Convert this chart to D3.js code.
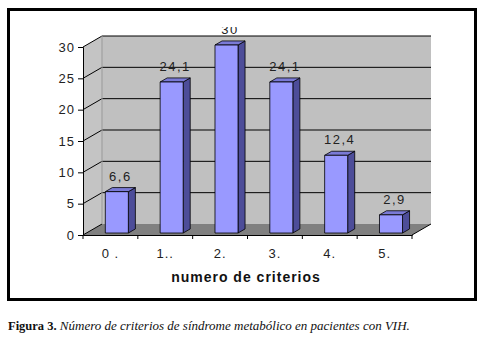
<!DOCTYPE html>
<html>
<head>
<meta charset="utf-8">
<script src="https://cdn.jsdelivr.net/npm/d3@7"></script>
<style>
  body { margin: 0; background: #fff; }
  svg text { font-family: Arial, "Liberation Sans", sans-serif; }
</style>
</head>
<body>
<div id="chart"></div>
<script>
// data
var categories = ["0 .", "1..", "2.", "3.", "4.", "5."];
var values = [6.6, 24.1, 30, 24.1, 12.4, 2.9];
var valueLabels = ["6,6", "24,1", "30", "24,1", "12,4", "2,9"];
var yTicks = [0, 5, 10, 15, 20, 25, 30];
var axisTitle = "numero de criterios";
var captionBold = "Figura 3.";
var captionItalic = " Número de criterios de síndrome metabólico en pacientes con VIH.";

var W = 488, H = 348;
var svg = d3.select("#chart").append("svg")
    .attr("width", W)
    .attr("height", H);

// outer frame
svg.append("rect")
    .attr("x", 8.5).attr("y", 9.5)
    .attr("width", 467).attr("height", 290)
    .attr("fill", "#fff")
    .attr("stroke", "#000")
    .attr("stroke-width", 3);

// 3D depth offsets of the back wall
var DX = 19, DY = 11;

var x = d3.scaleBand()
    .domain(categories)
    .range([83, 412]);

var y = d3.scaleLinear()
    .domain([0, 30])
    .range([235, 47]);

// project a point (px, value, depth 0..1)
function P(px, v, z) {
    return [px + z * DX, y(v) - z * DY];
}
function poly(pts) {
    return pts.map(function (p) { return p[0] + "," + p[1]; }).join(" ");
}

var x0 = x.range()[0], x1 = x.range()[1];

// back wall
svg.append("polygon")
    .attr("points", poly([P(x0, 0, 1), P(x0, 30, 1), P(x1, 30, 1), P(x1, 0, 1)]))
    .attr("fill", "#c0c0c0");

// left wall
svg.append("polygon")
    .attr("points", poly([P(x0, 0, 0), P(x0, 30, 0), P(x0, 30, 1), P(x0, 0, 1)]))
    .attr("fill", "#c4c4c4");

// floor
svg.append("polygon")
    .attr("points", poly([P(x0, 0, 0), P(x0, 0, 1), P(x1, 0, 1), P(x1, 0, 0)]))
    .attr("fill", "#808080");

// gridlines on back wall and left wall
yTicks.forEach(function (t) {
    if (t > 0) {
        svg.append("line")
            .attr("x1", P(x0, t, 1)[0]).attr("y1", P(x0, t, 1)[1])
            .attr("x2", P(x1, t, 1)[0]).attr("y2", P(x1, t, 1)[1])
            .attr("stroke", "#000").attr("stroke-width", 1);
    }
    svg.append("line")
        .attr("x1", P(x0, t, 0)[0]).attr("y1", P(x0, t, 0)[1])
        .attr("x2", P(x0, t, 1)[0]).attr("y2", P(x0, t, 1)[1])
        .attr("stroke", "#000").attr("stroke-width", 1);
});

// back wall edges
svg.append("line")
    .attr("x1", P(x0, 0, 1)[0]).attr("y1", P(x0, 0, 1)[1])
    .attr("x2", P(x0, 30, 1)[0]).attr("y2", P(x0, 30, 1)[1])
    .attr("stroke", "#999").attr("stroke-width", 1);
svg.append("line")
    .attr("x1", P(x1, 0, 0)[0]).attr("y1", P(x1, 0, 0)[1])
    .attr("x2", P(x1, 0, 1)[0]).attr("y2", P(x1, 0, 1)[1])
    .attr("stroke", "#000").attr("stroke-width", 1);

// Y axis
svg.append("g")
    .attr("transform", "translate(" + x0 + ",0)")
    .call(d3.axisLeft(y).tickValues(yTicks).tickSize(5).tickPadding(3).tickFormat(d3.format("d")))
    .call(function (g) {
        g.select(".domain").attr("stroke", "#000");
        g.selectAll("line").attr("stroke", "#000");
        g.selectAll("text").attr("font-size", 13).attr("fill", "#222")
            .attr("letter-spacing", 1)
            .style("font-family", "Arial, 'Liberation Sans', sans-serif");
    });

// X axis
svg.append("g")
    .attr("transform", "translate(0," + y(0) + ")")
    .call(d3.axisBottom(x).tickSize(0).tickPadding(14))
    .call(function (g) {
        g.select(".domain").attr("stroke", "#000");
        g.selectAll("text").attr("font-size", 13).attr("fill", "#222")
            .attr("letter-spacing", 1)
            .style("font-family", "Arial, 'Liberation Sans', sans-serif");
    });

// x ticks between categories
svg.append("g")
    .selectAll("line")
    .data(categories.concat(["end"]))
    .enter()
    .append("line")
    .attr("x1", function (d, i) { return x0 + i * x.step(); })
    .attr("x2", function (d, i) { return x0 + i * x.step(); })
    .attr("y1", y(0))
    .attr("y2", y(0) + 4)
    .attr("stroke", "#000");

// bars (front face, side, top)
var zf = 0.18, zb = 0.55, half = 0.21, shift = 3;
function barCenter(i) { return x(categories[i]) + x.bandwidth() / 2 + shift; }

var bars = svg.append("g")
    .selectAll("g")
    .data(values)
    .enter()
    .append("g");

bars.append("polygon")
    .attr("points", function (d, i) {
        var xr = barCenter(i) + half * x.step();
        return poly([P(xr, 0, zf), P(xr, d, zf), P(xr, d, zb), P(xr, 0, zb)]);
    })
    .attr("fill", "#4d4d99")
    .attr("stroke", "#000")
    .attr("stroke-width", 0.8);

bars.append("polygon")
    .attr("points", function (d, i) {
        var xc = barCenter(i);
        var xl = xc - half * x.step(), xr = xc + half * x.step();
        return poly([P(xl, d, zf), P(xl, d, zb), P(xr, d, zb), P(xr, d, zf)]);
    })
    .attr("fill", "#7a7ad6")
    .attr("stroke", "#000")
    .attr("stroke-width", 0.8);

bars.append("polygon")
    .attr("points", function (d, i) {
        var xc = barCenter(i);
        var xl = xc - half * x.step(), xr = xc + half * x.step();
        return poly([P(xl, 0, zf), P(xl, d, zf), P(xr, d, zf), P(xr, 0, zf)]);
    })
    .attr("fill", "#9999ff")
    .attr("stroke", "#000")
    .attr("stroke-width", 0.8);

// value labels
svg.append("clipPath").attr("id", "topclip")
    .append("rect").attr("x", 0).attr("y", 27).attr("width", W).attr("height", H);

svg.append("g")
    .attr("clip-path", "url(#topclip)")
    .selectAll("text")
    .data(values)
    .enter()
    .append("text")
    .attr("x", function (d, i) {
        return P(barCenter(i), d, (zf + zb) / 2)[0];
    })
    .attr("y", function (d, i) { return P(0, d, zb)[1] - 7; })
    .attr("text-anchor", "middle")
    .attr("font-size", 13)
    .attr("letter-spacing", 1.5)
    .attr("fill", "#222")
    .text(function (d, i) { return valueLabels[i]; });

// axis title
svg.append("text")
    .attr("x", 246)
    .attr("y", 282)
    .attr("text-anchor", "middle")
    .attr("font-size", 14)
    .attr("font-weight", "bold")
    .attr("letter-spacing", 1)
    .attr("fill", "#111")
    .text(axisTitle);

// caption
var cap = svg.append("text")
    .attr("x", 8)
    .attr("y", 330)
    .style("font-family", "'Liberation Serif', 'Times New Roman', serif")
    .attr("fill", "#111");
cap.append("tspan").attr("font-weight", "bold").attr("font-size", 12.5).text(captionBold);
cap.append("tspan").attr("font-style", "italic").attr("font-size", 13).text(captionItalic);
</script>
</body>
</html>
